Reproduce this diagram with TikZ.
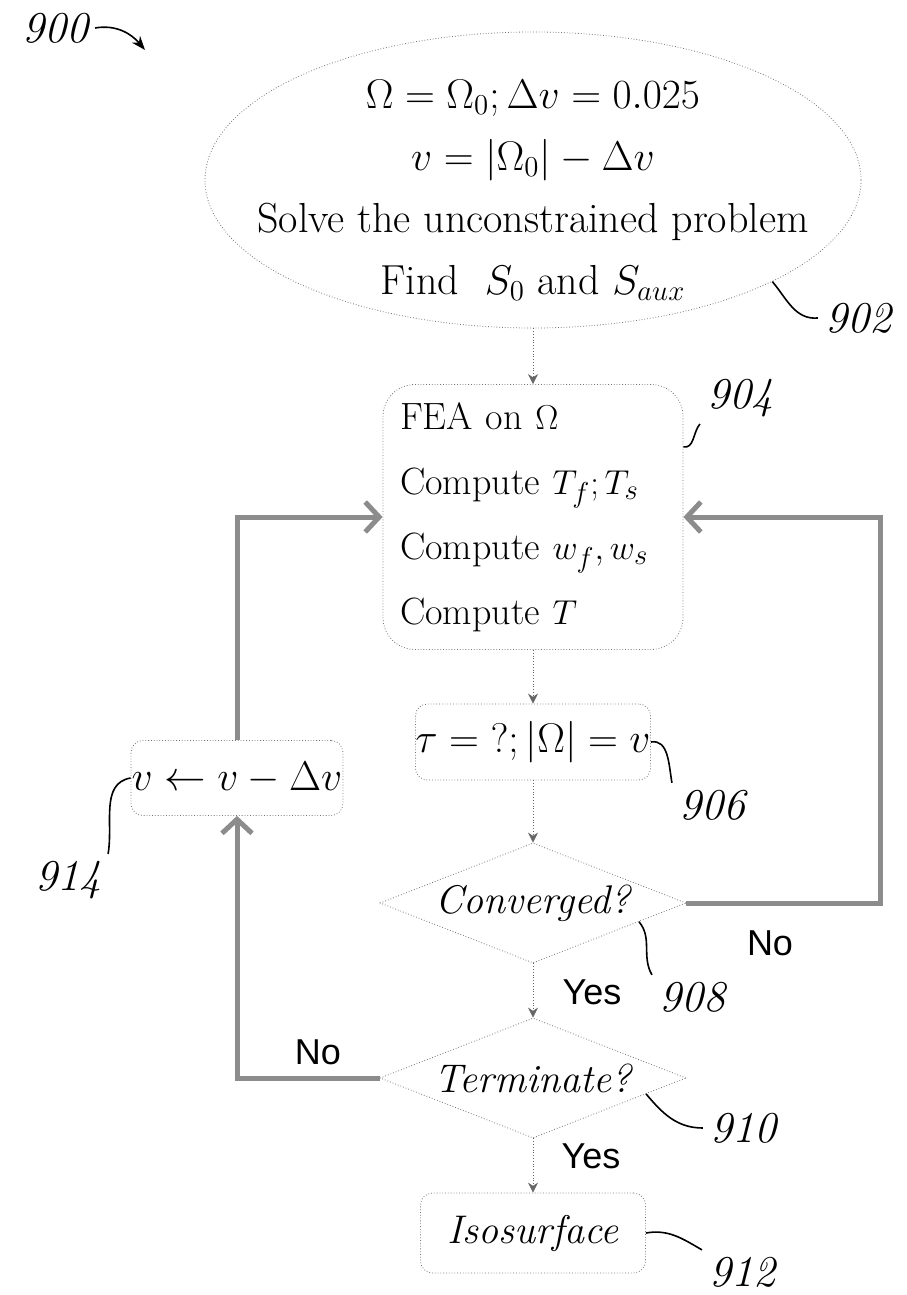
\documentclass[tikz,border=0pt]{standalone}
\usepackage{amsmath,amssymb}
\usepackage{fontspec}
\newfontfamily\yesnofont{Liberation Sans}
\usetikzlibrary{arrows.meta, positioning, shapes.geometric, calc}

\begin{document}
\begin{tikzpicture}[
  x=0.5pt, y=-0.5pt,
  stepbox/.style={draw=black!55, densely dotted, rounded corners=6pt,
              inner sep=0pt, align=center, font=\fontsize{19.5}{22}\selectfont},
  decision/.style={diamond, aspect=2.55, draw=black!55, densely dotted, inner sep=0pt,
              minimum width=153pt, minimum height=60pt,
              font=\fontsize{20}{22}\selectfont\itshape},
  flow/.style={draw=black!60, densely dotted, -{Stealth[length=5pt,width=5pt]}},
  loopline/.style={line width=2.5pt, draw=black!45,
              -{Straight Barb[length=7pt,width=15pt]}},
  answer/.style={font=\yesnofont\fontsize{18}{18}\selectfont},
  refnum/.style={font=\fontsize{22}{22}\selectfont\itshape},
  leader/.style={thick}
]
\useasboundingbox (0,0) rectangle (906,1295);

\node[ellipse, draw=black!55, densely dotted, inner sep=0pt,
      minimum width=328pt, minimum height=148pt] (start) at (533,180) {};
\node[align=center, font=\fontsize{21}{31}\selectfont] (starttext) at (533,190)
  {$\Omega = \Omega_0; \Delta v = 0.025$\\
   $v = \left|\Omega_0\right| - \Delta v$\\
   Solve the unconstrained problem\\
   Find~ $S_0$ and $S_{aux}$};

\node[stepbox, rounded corners=16pt, minimum width=150pt, minimum height=132.5pt,
      text width=133pt, align=left, font=\fontsize{19}{32.5}\selectfont] (fea) at (533,517)
  {FEA on $\Omega$\\ Compute $T_f; T_s$\\ Compute $w_f, w_s$\\ Compute $T$};
\node[stepbox, minimum width=115pt, minimum height=38pt] (thresh) at (533,742)
  {$\tau = {?}; \left|\Omega\right| = v$};
\node[decision] (conv) at (533,903) {Converged?};
\node[decision] (term) at (533,1078) {Terminate?};
\node[stepbox, minimum width=112.5pt, minimum height=40pt] (iso) at (533,1233)
  {\textit{\fontsize{20}{22}\selectfont Isosurface}};
\node[stepbox, minimum width=106pt, minimum height=37.5pt] (update) at (237,778)
  {$v \leftarrow v - \Delta v$};

\coordinate (rturn) at (880,517);
\coordinate (lturn) at (237,1078);

\draw[flow] (start) -- (fea);
\draw[flow] (fea) -- (thresh);
\draw[flow] (thresh) -- (conv);
\draw[flow] (conv) -- (term);
\draw[flow] (term) -- (iso);

\draw[loopline] (conv.east) -| (rturn) -- (fea.east);
\draw[loopline] (term.west) -- (lturn) -- (update.south);
\draw[loopline] (update.north) |- (fea.west);

\node[answer] (noright) at (770,943) {No};
\node[answer] (yesconv) at (592,992) {Yes};
\node[answer] (noleft) at (318,1052) {No};
\node[answer] (yesterm) at (591,1156) {Yes};

% reference numerals
\node[refnum] (l900) at (55,28) {900};
\node[refnum] (l902) at (858,318) {902};
\node[refnum] (l904) at (740,398) {904};
\node[refnum] (l906) at (712,805) {906};
\node[refnum] (l908) at (692,997) {908};
\node[refnum] (l910) at (743,1128) {910};
\node[refnum] (l912) at (742,1272) {912};
\node[refnum] (l914) at (68,880) {914};
\coordinate (tip900) at (145,50);

\draw[leader, -{Stealth[length=7pt]}] (l900.east) to[out=10,in=130] (tip900);
\draw[leader] (start.-23) to[out=-50,in=185] (l902.west);
\draw[leader] (fea.25) to[out=-10,in=-130] (l904.south west);
\draw[leader] (thresh.east) to[out=10,in=100] (l906.north west);
\draw[leader] (conv.-10) to[out=-50,in=120] (l908.north west);
\draw[leader] (term.-8) to[out=-50,in=180] (l910.west);
\draw[leader] (iso.east) to[out=10,in=150] (l912.north west);
\draw[leader] (update.west) to[out=190,in=80] (l914.north east);
\end{tikzpicture}
\end{document}
